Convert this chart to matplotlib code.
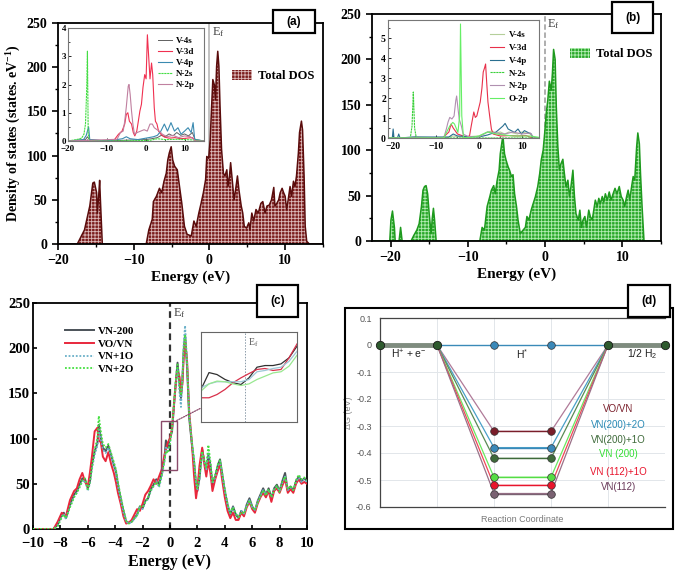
import matplotlib
matplotlib.use('Agg')
import matplotlib.pyplot as plt
from matplotlib.patches import Rectangle, Patch, ConnectionPatch
from matplotlib.ticker import MultipleLocator

# ---------------- data ----------------
# (a) total DOS of VN
E_a = [-20, -17.45, -16.5, -15.8, -15.4, -15.2, -14.9, -14.8, -14.6, -14.5, -14.4, -14.15,
       -8.35, -8.0, -7.55, -7.4, -7.0, -6.6, -6.3, -6.0, -5.7, -5.5, -5.3, -5.05, -4.85, -4.6,
       -4.25, -3.95, -3.65, -3.3, -2.95, -2.4, -2.05, -1.75, -1.4, -1.1, -0.8, -0.5, -0.35, -0.1,
       0.1, 0.25, 0.45, 0.65, 0.8, 0.95, 1.1, 1.25, 1.4, 1.6, 1.85, 2.05, 2.3, 2.45, 2.65, 2.8,
       3.05, 3.25, 3.45, 3.7, 3.9, 4.2, 4.4, 4.6, 4.9, 5.2, 5.35, 5.6, 5.85, 6.15, 6.45, 6.8,
       7.05, 7.35, 7.6, 7.9, 8.2, 8.5, 8.65, 8.9, 9.15, 9.35, 9.6, 9.8, 10.0, 10.2, 10.4, 10.65,
       10.85, 11.1, 11.3, 11.5, 11.75, 11.9, 12.15, 12.3, 12.5, 12.65, 12.85, 13.2, 15]
dos_a = [0, 0, 16, 43, 69, 70, 58, 35, 58, 72, 50, 0,
         0, 16, 28, 48, 54, 63, 58, 71, 80, 95, 103, 110, 95, 88,
         84, 65, 46, 20, 11, 9, 26, 20, 35, 46, 58, 73, 99, 97,
         118, 148, 186, 180, 163, 201, 218, 201, 156, 107, 80, 77, 84, 65, 77, 92,
         69, 50, 61, 77, 61, 43, 35, 20, 18, 24, 16, 35, 26, 39, 35, 46,
         48, 35, 43, 44, 50, 64, 43, 46, 50, 58, 63, 58, 54, 39, 50, 65,
         54, 71, 65, 77, 103, 126, 139, 129, 77, 20, 3, 0, 0]

# (a) inset PDOS
a_v4s_E = [-20, -15.5, -15, -14.5, -10, -5, 0, 1.5, 3, 4, 5, 6, 7, 8, 9, 10, 11, 12, 12.7, 15]
a_v4s = [0, 0.05, 0.15, 0.05, 0, 0.03, 0.05, 0.08, 0.12, 0.2, 0.15, 0.25, 0.18, 0.3, 0.2, 0.25, 0.18, 0.3, 0.05, 0]
a_v3d_E = [-20, -8.3, -7.0, -6.1, -5.4, -5.0, -4.6, -4.2, -3.65, -3.2, -2.8, -2.3, -1.9, -1.5, -1.1,
           -0.7, -0.26, 0.1, 0.43, 0.8, 1.1, 1.5, 1.8, 2.2, 2.5, 2.9, 3.3, 3.9, 4.8, 6, 7.5, 9, 10.5, 12, 12.8, 15]
a_v3d = [0, 0, 0.24, 0.35, 0.6, 0.94, 1.0, 0.7, 0.6, 0.3, 0.18, 0.35, 0.7, 1.06, 1.3,
         1.9, 2.35, 2.2, 3.76, 2.9, 2.2, 2.76, 2.35, 1.18, 0.7, 0.6, 0.35, 0.24, 0.14, 0.1, 0.12, 0.08, 0.1, 0.12, 0, 0]
a_v4p_E = [-20, -16, -15.3, -15.0, -14.7, -14.4, -10, -6, -5, -4, -2, 0, 2, 3.0, 3.9, 4.8, 5.6,
           6.5, 7.4, 8.3, 9.1, 10, 10.9, 11.7, 12.2, 12.6, 15]
a_v4p = [0, 0.05, 0.2, 0.35, 0.5, 0.05, 0, 0.08, 0.15, 0.08, 0.05, 0.1, 0.15, 0.2, 0.35, 0.6, 0.35,
         0.65, 0.35, 0.47, 0.24, 0.35, 0.47, 0.3, 0.65, 0.06, 0]
a_n2s_E = [-20, -17.8, -16.5, -15.9, -15.5, -15.2, -15.0, -14.8, -14.5, -10, 1, 3, 5, 8, 12, 15]
a_n2s = [0, 0.05, 0.1, 0.24, 0.6, 1.76, 3.18, 0.24, 0.02, 0, 0.02, 0.08, 0.05, 0.06, 0.04, 0]
a_n2p_E = [-20, -7.4, -6.5, -5.8, -5.4, -5.0, -4.5, -4.3, -4.0, -3.65, -3.3, -2.9, -2.2, -1.3, -0.4,
           0.4, 1.1, 1.7, 2.2, 2.9, 3.5, 4.3, 5.5, 7, 8.5, 10, 11.5, 12.8, 15]
a_n2p = [0, 0.06, 0.3, 0.35, 0.7, 1.2, 1.94, 2.0, 1.65, 1.06, 0.6, 0.24, 0.3, 0.35, 0.4,
         0.35, 0.6, 0.6, 0.47, 0.4, 0.35, 0.24, 0.15, 0.2, 0.12, 0.18, 0.15, 0, 0]

# (b) total DOS of VO/VN
E_b = [-22.5, -20.1, -19.95, -19.75, -19.5, -19.4, -18.9, -18.7, -18.5, -17.35, -17.0, -16.6, -16.3,
       -16.0, -15.8, -15.6, -15.4, -15.2, -15.0, -14.75, -14.6, -14.45, -14.3, -14.1, -8.45, -8.15,
       -7.85, -7.5, -7.15, -6.95, -6.65, -6.45, -6.2, -5.95, -5.8, -5.55, -5.45, -5.25, -5.05, -4.8,
       -4.6, -4.35, -4.15, -3.95, -3.7, -3.5, -3.2, -2.85, -2.55, -2.35, -2.1, -1.8, -1.55, -1.25,
       -0.95, -0.7, -0.5, -0.25, -0.05, 0.15, 0.35, 0.55, 0.8, 0.95, 1.1, 1.3, 1.45, 1.65, 1.85,
       2.05, 2.3, 2.5, 2.7, 2.95, 3.15, 3.35, 3.6, 3.8, 4.0, 4.3, 4.5, 4.7, 4.9, 5.15, 5.35, 5.65,
       5.85, 6.1, 6.3, 6.5, 6.75, 6.95, 7.15, 7.4, 7.6, 7.8, 8.05, 8.3, 8.55, 8.8, 9.05, 9.3, 9.6,
       9.85, 10.1, 10.3, 10.55, 10.75, 10.95, 11.2, 11.4, 11.6, 11.85, 12.0, 12.2, 12.35, 12.55, 12.8, 15]
dos_b = [0, 0, 23, 33, 15, 0, 0, 15, 0, 0, 6, 12, 19,
         38, 56, 60, 61, 52, 30, 8, 25, 36, 23, 0, 0, 15,
         12, 38, 49, 56, 61, 52, 67, 78, 96, 111, 115, 96, 89, 82,
         78, 71, 73, 52, 38, 23, 8, 12, 15, 27, 23, 34, 41, 49,
         60, 74, 89, 100, 119, 141, 155, 176, 166, 185, 211, 200, 148, 104, 78,
         85, 90, 74, 60, 67, 49, 60, 78, 49, 30, 23, 34, 15, 23, 27, 15, 34,
         27, 23, 34, 45, 38, 47, 41, 49, 43, 52, 45, 54, 45, 52, 58, 52, 60,
         49, 45, 38, 49, 56, 45, 60, 71, 67, 104, 119, 107, 74, 38, 0, 0]

# (b) inset PDOS
b_v4s_E = [-23, -16, -15, -8, -6, -4, 0, 1, 2, 3, 4, 5, 6, 7, 8, 9, 10, 11, 12, 12.6, 15]
b_v4s = [0, 0, 0.05, 0, 0.1, 0.05, 0.1, 0.2, 0.3, 0.35, 0.25, 0.3, 0.2, 0.3, 0.25, 0.2, 0.3, 0.25, 0.2, 0, 0]
b_v3d_E = [-23, -8.5, -7, -6.5, -6, -5, -3, -2.2, -1.8, -1.2, -0.85, -0.5, -0.1, 0.3, 0.7, 1.0, 1.3,
           1.55, 1.8, 2.1, 2.5, 2.9, 3.3, 5, 7, 9, 11, 12.5, 15]
b_v3d = [0, 0, 0.3, 0.7, 0.5, 0.2, 0.05, 0.1, 0.6, 1.3, 1.03, 1.1, 1.45, 1.8, 2.5, 3.3, 3.5,
         3.7, 2.8, 1.8, 1.1, 0.45, 0.2, 0.1, 0.12, 0.1, 0.12, 0, 0]
b_v4p_E = [-23, -20.2, -20.0, -19.8, -19, -18.7, -18.4, -15.5, -7, -6, -5, 0, 2, 4, 5.6, 6.1, 6.8,
           7.5, 8.3, 9.1, 9.9, 10.6, 11.4, 12.2, 12.6, 15]
b_v4p = [0, 0, 0.45, 0, 0, 0.2, 0, 0.05, 0.05, 0.2, 0.1, 0.05, 0.15, 0.3, 0.6, 0.73, 0.45,
         0.37, 0.28, 0.45, 0.2, 0.37, 0.28, 0.2, 0, 0]
b_n2s_E = [-23, -16, -15.6, -15.3, -15.0, -14.6, -5, 15]
b_n2s = [0, 0, 0.6, 2.3, 0.5, 0, 0, 0]
b_n2p_E = [-23, -8.2, -7.6, -7.2, -6.8, -6.3, -5.8, -5.4, -5.2, -4.9, -4.6, -4.1, -3.7, -2.6, 0, 2,
           4, 6, 8, 10, 12, 12.8, 15]
b_n2p = [0, 0, 0.45, 0.8, 1.03, 0.95, 1.1, 1.87, 2.1, 1.5, 0.95, 0.6, 0.2, 0.08, 0.05, 0.3,
         0.25, 0.2, 0.3, 0.2, 0.25, 0, 0]
b_o2p_E = [-23, -8.3, -8, -6.8, -6.1, -5.7, -4.9, -4.5, -4.3, -4.0, -3.6, -2, 0, 2, 4, 8, 12, 15]
b_o2p = [0, 0, 0.1, 0.6, 0.78, 0.7, 0.28, 1.1, 5.7, 1.1, 0.03, 0.02, 0.1, 0.3, 0.2, 0.1, 0.1, 0]

# (c) DOS comparison
E_c = [-10, -8.5, -8.2, -7.9, -7.75, -7.6, -7.3, -7.0, -6.8, -6.6, -6.4, -6.2, -6.0, -5.85, -5.7,
       -5.5, -5.3, -5.2, -5.05, -4.9, -4.7, -4.5, -4.3, -4.1, -3.95, -3.8, -3.6, -3.4, -3.2, -3.0,
       -2.8, -2.6, -2.4, -2.2, -2.0, -1.8, -1.6, -1.4, -1.2, -1.0, -0.8, -0.6, -0.4, -0.3, -0.15,
       0.0, 0.15, 0.3, 0.45, 0.55, 0.7, 0.8, 0.9, 1.0, 1.1, 1.25, 1.4, 1.6, 1.75, 1.9, 2.0, 2.15,
       2.35, 2.5, 2.65, 2.8, 2.95, 3.1, 3.3, 3.5, 3.65, 3.8, 4.0, 4.2, 4.4, 4.6, 4.8, 5.0, 5.2,
       5.4, 5.6, 5.8, 6.0, 6.2, 6.4, 6.6, 6.8, 7.0, 7.2, 7.4, 7.6, 7.8, 8.0, 8.2, 8.4, 8.6, 8.8,
       9.0, 9.2, 9.4, 9.6, 9.8, 10.0]
dos_vn200 = [0, 0, 5, 16, 18, 12, 27, 38, 42, 49,
             56, 55, 45, 52, 71, 86, 95, 115, 101, 90,
             86, 92, 82, 71, 64, 49, 34, 20, 8, 7,
             8, 12, 16, 25, 23, 31, 34, 44, 49, 55,
             49, 62, 79, 98, 90, 101, 108, 138, 167, 184,
             160, 145, 163, 197, 215, 178, 123, 93, 75, 49,
             42, 56, 88, 75, 64, 82, 71, 49, 58, 71,
             77, 62, 42, 27, 16, 25, 16, 12, 20, 16,
             27, 34, 25, 20, 31, 38, 45, 38, 45, 34,
             45, 49, 42, 53, 62, 42, 47, 42, 53, 58,
             53, 56, 53]
dos_vovn = [0, 0, 8, 18, 16, 14, 32, 42, 45, 55,
            62, 52, 47, 62, 80, 108, 112, 98, 96, 80,
            75, 85, 72, 62, 52, 40, 28, 14, 6, 7,
            10, 16, 22, 20, 28, 38, 42, 48, 55, 50,
            58, 66, 82, 88, 96, 100, 112, 140, 165, 175,
            168, 150, 160, 190, 210, 185, 130, 95, 60, 34,
            45, 70, 90, 72, 58, 75, 62, 42, 55, 65,
            72, 55, 35, 20, 12, 18, 10, 10, 18, 14,
            24, 30, 22, 18, 28, 35, 40, 35, 42, 30,
            42, 45, 40, 48, 55, 40, 44, 40, 50, 55,
            50, 52, 50]
dos_vn1o = [0, 0, 4, 14, 17, 11, 25, 36, 40, 47,
            52, 54, 42, 50, 66, 82, 92, 110, 100, 88,
            84, 90, 80, 70, 62, 47, 32, 18, 8, 6,
            8, 11, 15, 24, 22, 30, 33, 42, 47, 53,
            46, 58, 75, 90, 86, 96, 110, 140, 165, 178,
            150, 135, 165, 205, 225, 185, 128, 95, 76, 50,
            44, 55, 84, 74, 66, 85, 70, 50, 57, 70,
            75, 60, 42, 26, 17, 24, 17, 13, 20, 17,
            26, 32, 24, 21, 30, 37, 43, 38, 44, 35,
            44, 47, 42, 51, 58, 43, 46, 43, 52, 57,
            52, 55, 52]
dos_vn2o = [0, 0, 3, 13, 16, 12, 24, 35, 40, 46,
            54, 56, 44, 52, 68, 88, 100, 125, 108, 94,
            90, 94, 84, 74, 66, 52, 36, 22, 9, 6,
            8, 12, 15, 25, 24, 30, 35, 43, 48, 52,
            48, 60, 76, 86, 84, 95, 112, 142, 170, 182,
            158, 148, 165, 200, 215, 182, 125, 96, 78, 52,
            45, 58, 86, 76, 68, 93, 74, 52, 60, 72,
            76, 63, 44, 28, 18, 24, 17, 13, 19, 17,
            25, 32, 24, 21, 29, 36, 43, 37, 44, 35,
            43, 48, 41, 52, 58, 44, 48, 43, 54, 60,
            55, 57, 54]

# (c) zoomed inset near Ef
E_zoom = [-0.55, -0.45, -0.35, -0.25, -0.15, -0.05, 0.05, 0.15, 0.25, 0.35, 0.45, 0.55, 0.65]
zoom_vn200 = [84.9, 95.2, 94.0, 91.0, 89.0, 87.9, 92.0, 98.5, 99.5, 99.5, 100.5, 104.2, 111.3]
zoom_vovn = [79.8, 79.8, 81.8, 84.9, 89.0, 92.0, 94.6, 97.1, 97.7, 96.5, 97.1, 104.2, 112.7]
zoom_vn1o = [85.9, 88.3, 89.6, 89.6, 89.6, 89.6, 91.0, 95.7, 96.5, 97.7, 98.5, 102.1, 108.2]
zoom_vn2o = [83.9, 88.3, 90.0, 89.6, 88.3, 87.3, 88.3, 91.0, 93.0, 95.0, 95.7, 99.1, 105.8]

# (d) free energy diagram
steps = [0, 1, 2, 3, 4, 5]
dG_ideal = [0, 0, 0, 0, 0, 0]
d_names = ['VO/VN', 'VN(200)+2O', 'VN(200)+1O', 'VN (200)', 'VN (112)+1O', 'VN(112)']
d_hstar = [-0.32, -0.38, -0.42, -0.49, -0.52, -0.55]
d_yticks = [-0.6, -0.5, -0.4, -0.3, -0.2, -0.1, 0, 0.1]
d_yticklabels = ['-0.6', '-0.5', '-0.4', '-0.3', '-0.2', '-0.1', '0', '0.1']

# ---------------- figure ----------------
W, H = 678, 573
fig = plt.figure(figsize=(W / 100, H / 100), dpi=100)
plt.rcParams['hatch.linewidth'] = 0.6
plt.rcParams['mathtext.default'] = 'regular'

SERIF = 'Liberation Serif'
SANS = 'Liberation Sans'


def box(x0, y0, x1, y1):
    return [x0 / W, 1 - y1 / H, (x1 - x0) / W, (y1 - y0) / H]


def label_box(x0, y0, x1, y1, txt):
    r = Rectangle((x0 / W, 1 - y1 / H), (x1 - x0) / W, (y1 - y0) / H, transform=fig.transFigure,
                  facecolor='white', edgecolor='black', lw=1.6, zorder=20)
    fig.add_artist(r)
    fig.text((x0 + x1) / 2 / W, 1 - (y0 + y1) / 2 / H, txt, ha='center', va='center',
             fontsize=8.5, fontweight='bold', family=SANS, zorder=21)


def style_main(ax, fs=10):
    for s in ax.spines.values():
        s.set_linewidth(1.3)
    ax.tick_params(direction='out', labelsize=fs, width=1.2, length=4, top=False, right=False)
    ax.tick_params(which='minor', direction='out', length=2.5, width=1)
    for lab in ax.get_xticklabels() + ax.get_yticklabels():
        lab.set_fontfamily(SERIF)
        lab.set_fontweight('bold')


def style_inset(ax, fs):
    for s in ax.spines.values():
        s.set_linewidth(0.8)
        s.set_color('#777777')
    ax.tick_params(direction='in', labelsize=fs, length=2, width=0.6, pad=1.5)
    ax.tick_params(axis='x', pad=3)
    ax.tick_params(which='minor', direction='in', length=1.2, width=0.5)
    for lab in ax.get_xticklabels() + ax.get_yticklabels():
        lab.set_fontfamily(SERIF)
        lab.set_fontweight('bold')


# ---- (a)
axa = fig.add_axes(box(58, 23, 323, 244))
axa.axvline(0, color='#bdbdbd', lw=1.3, zorder=0)
axa.fill_between(E_a, dos_a, 0, facecolor='#7a1c1c', edgecolor='#dcbaba', hatch='+++++',
                 linewidth=0, zorder=1)
axa.plot(E_a, dos_a, color='#5a0c0c', lw=1.1, zorder=2)
axa.set_xlim(-20, 15)
axa.set_ylim(0, 250)
axa.xaxis.set_major_locator(MultipleLocator(10))
axa.xaxis.set_minor_locator(MultipleLocator(5))
axa.yaxis.set_major_locator(MultipleLocator(50))
axa.yaxis.set_minor_locator(MultipleLocator(25))
style_main(axa)
axa.set_xlabel('Energy (eV)', fontsize=11, fontweight='bold', family=SERIF, labelpad=2)
axa.set_ylabel('Density of states (states. eV$^{-1}$)', fontsize=10, fontweight='bold',
               family=SERIF, labelpad=3)
axa.text(0.35, 247, 'E$_f$', fontsize=9, family=SERIF, color='#444444', va='top')
ha = Patch(facecolor='#7a1c1c', edgecolor='#dcbaba', hatch='+++++', linewidth=0)
axa.legend([ha], ['Total DOS'], loc='upper right', bbox_to_anchor=(1.01, 0.84), frameon=False,
           prop={'family': SERIF, 'weight': 'bold', 'size': 9}, handlelength=1.6,
           handleheight=0.9, handletextpad=0.5)

axai = fig.add_axes(box(68, 28, 204, 141))
axai.plot(a_v4s_E, a_v4s, color='#606060', lw=0.7, label='V-4s')
axai.plot(a_v3d_E, a_v3d, color='#f03050', lw=0.8, label='V-3d')
axai.plot(a_v4p_E, a_v4p, color='#3a8ab0', lw=0.8, label='V-4p')
axai.plot(a_n2s_E, a_n2s, color='#44dd44', lw=0.8, ls=(0, (2, 0.6)), label='N-2s')
axai.plot(a_n2p_E, a_n2p, color='#c080a0', lw=0.8, label='N-2p')
axai.set_xlim(-20, 15)
axai.set_ylim(0, 4)
axai.xaxis.set_major_locator(MultipleLocator(10))
axai.xaxis.set_minor_locator(MultipleLocator(5))
axai.yaxis.set_major_locator(MultipleLocator(1))
axai.yaxis.set_minor_locator(MultipleLocator(0.5))
style_inset(axai, 6.5)
axai.legend(loc='upper right', frameon=False, prop={'family': SERIF, 'weight': 'bold', 'size': 6.5},
            handlelength=1.5, handletextpad=0.5, labelspacing=0.3, borderaxespad=0.6)

# ---- (b)
axb = fig.add_axes(box(372, 14, 661, 241))
axb.axvline(0, color='#a8a8a8', lw=1.3, ls=(0, (3, 1.5)), zorder=0)
axb.fill_between(E_b, dos_b, 0, facecolor='#2aa82a', edgecolor='#b4ecb4', hatch='+++++',
                 linewidth=0, zorder=1)
axb.plot(E_b, dos_b, color='#1e9a1e', lw=1.1, zorder=2)
axb.set_xlim(-22.4, 15)
axb.set_ylim(0, 250)
axb.xaxis.set_major_locator(MultipleLocator(10))
axb.xaxis.set_minor_locator(MultipleLocator(5))
axb.yaxis.set_major_locator(MultipleLocator(50))
axb.yaxis.set_minor_locator(MultipleLocator(25))
style_main(axb)
axb.set_xlabel('Energy (eV)', fontsize=11, fontweight='bold', family=SERIF, labelpad=2)
axb.text(0.3, 247, 'E$_f$', fontsize=9, family=SERIF, color='#444444', va='top')
hb = Patch(facecolor='#2aa82a', edgecolor='#b4ecb4', hatch='+++++', linewidth=0)
axb.legend([hb], ['Total DOS'], loc='upper right', bbox_to_anchor=(1.01, 0.9), frameon=False,
           prop={'family': SERIF, 'weight': 'bold', 'size': 9}, handlelength=1.6,
           handleheight=0.9, handletextpad=0.5)

axbi = fig.add_axes(box(388, 20, 539, 138))
axbi.plot(b_v4s_E, b_v4s, color='#b5cf9a', lw=0.8, label='V-4s')
axbi.plot(b_v3d_E, b_v3d, color='#e8304a', lw=0.8, label='V-3d')
axbi.plot(b_v4p_E, b_v4p, color='#2a6f90', lw=0.8, label='V-4p')
axbi.plot(b_n2s_E, b_n2s, color='#3ad03a', lw=0.8, ls=(0, (2, 0.6)), label='N-2s')
axbi.plot(b_n2p_E, b_n2p, color='#b090b0', lw=0.8, label='N-2p')
axbi.plot(b_o2p_E, b_o2p, color='#66ee66', lw=0.8, label='O-2p')
axbi.set_xlim(-21.2, 14.0)
axbi.set_ylim(0, 5.9)
axbi.xaxis.set_major_locator(MultipleLocator(10))
axbi.xaxis.set_minor_locator(MultipleLocator(5))
axbi.yaxis.set_major_locator(MultipleLocator(1))
axbi.yaxis.set_minor_locator(MultipleLocator(0.5))
style_inset(axbi, 7)
axbi.legend(loc='upper right', frameon=False, prop={'family': SERIF, 'weight': 'bold', 'size': 6.5},
            handlelength=1.6, handletextpad=0.5, labelspacing=0.5, borderaxespad=0.8)

# ---- (c)
axc = fig.add_axes(box(33, 303, 307, 529))
axc.axvline(0, color='#333333', lw=1.6, ls=(0, (3, 2)), zorder=1)
axc.plot(E_c, dos_vn200, color='#4b5258', lw=1.4, label='VN-200', zorder=3)
axc.plot(E_c, dos_vovn, color='#e8283c', lw=1.4, label='VO/VN', zorder=4)
axc.plot(E_c, dos_vn1o, color='#6ab0c8', lw=1.3, ls=(0, (1, 1)), label='VN+1O', zorder=5)
axc.plot(E_c, dos_vn2o, color='#44e040', lw=1.3, ls=(0, (1, 1)), label='VN+2O', zorder=6)
axc.set_xlim(-10, 10)
axc.set_ylim(0, 250)
axc.xaxis.set_major_locator(MultipleLocator(2))
axc.yaxis.set_major_locator(MultipleLocator(50))
style_main(axc, fs=10.5)
axc.tick_params(direction='in', length=3)
axc.tick_params(axis='x', pad=6)
axc.tick_params(axis='y', pad=2)
axc.set_xlabel('Energy (eV)', fontsize=11.5, fontweight='bold', family=SERIF, labelpad=3)
axc.text(0.25, 247, 'E$_f$', fontsize=9, family=SERIF, color='#444444', va='top')
axc.legend(loc='upper left', bbox_to_anchor=(0.08, 0.94), frameon=False,
           prop={'family': SERIF, 'weight': 'bold', 'size': 8}, handlelength=2.6,
           handletextpad=0.4, labelspacing=0.25)
axc.add_patch(Rectangle((-0.66, 65), 1.15, 55, fill=False, edgecolor='#8a4a6a', lw=1.0, zorder=7))

axci = fig.add_axes(box(201, 332, 297, 422))
axci.axvline(0, color='#8a9aa8', lw=0.7, ls=(0, (1.5, 1.5)))
axci.plot(E_zoom, zoom_vn200, color='#303030', lw=0.9)
axci.plot(E_zoom, zoom_vovn, color='#d8304a', lw=0.9)
axci.plot(E_zoom, zoom_vn1o, color='#9cc8d8', lw=0.9)
axci.plot(E_zoom, zoom_vn2o, color='#98e890', lw=0.9)
axci.set_xlim(-0.55, 0.65)
axci.set_ylim(65, 120)
axci.set_xticks([])
axci.set_yticks([])
for s in axci.spines.values():
    s.set_color('#666666')
    s.set_linewidth(0.8)
axci.text(0.04, 117, 'E$_f$', fontsize=7, family=SERIF, color='#555555', va='top')
con = ConnectionPatch(xyA=(0.49, 120), coordsA=axc.transData, xyB=(0, 0.155),
                      coordsB=axci.transAxes, color='#8a4a6a', lw=0.9, ls=(0, (1, 1)))
fig.add_artist(con)

# ---- (d)
fig.add_artist(Rectangle((345 / W, 1 - 529 / H), 328 / W, 221 / H, transform=fig.transFigure,
                         fill=False, edgecolor='black', lw=1.5, zorder=5))
axd = fig.add_axes(box(380, 318, 665, 507))
d_line = ['#b07a98', '#4aa0c8', '#5a8a55', '#6ae860', '#f04858', '#9a7088']
d_mark = ['#7a1e2a', '#3a88b8', '#3e6a3a', '#55dd44', '#e8142c', '#7a6272']
d_text = ['#7a1e2a', '#2a8ab5', '#3e6a3a', '#33dd33', '#e8142c', '#6a3a5a']
for k in range(len(d_names)):
    vals = [0, 0, d_hstar[k], d_hstar[k], 0, 0]
    axd.plot(steps, vals, color=d_line[k], lw=0.9, zorder=3)
    axd.plot(steps[2:4], vals[2:4], color=d_mark[k], lw=1.0, zorder=4)
    axd.plot(steps[2:4], vals[2:4], ls='none', marker='o', ms=5.5, mfc=d_mark[k],
             mec='#333333', mew=0.5, zorder=6, clip_on=False)
axd.plot(steps, dG_ideal, color='#3a8ab8', lw=1.0, zorder=4)
axd.plot(steps[0:2], dG_ideal[0:2], color='#7f8c7f', lw=3.5, zorder=4, solid_capstyle='butt')
axd.plot(steps[4:6], dG_ideal[4:6], color='#7f8c7f', lw=3.5, zorder=4, solid_capstyle='butt')
axd.plot(steps[2:4], dG_ideal[2:4], ls='none', marker='o', ms=5.5, mfc='#3a88b8',
         mec='#333333', mew=0.5, zorder=7, clip_on=False)
axd.plot([steps[0], steps[1], steps[4], steps[5]], [dG_ideal[0], dG_ideal[1], dG_ideal[4], dG_ideal[5]],
         ls='none', marker='o', ms=6, mfc='#2e5a2e', mec='#1a1a1a', mew=0.6, zorder=8, clip_on=False)
axd.set_xlim(0, 5)
axd.set_ylim(-0.6, 0.1)
axd.set_xticks(steps)
axd.set_xticklabels([])
axd.set_yticks(d_yticks)
axd.set_yticklabels(d_yticklabels)
axd.grid(True, color='#e2e6ea', lw=0.7)
axd.set_axisbelow(True)
axd.tick_params(axis='x', length=0)
axd.tick_params(axis='y', length=0, labelsize=6.5, labelcolor='#555555', pad=6)
for lab in axd.get_yticklabels():
    lab.set_fontfamily(SANS)
for side, s in axd.spines.items():
    s.set_color('#444444')
    s.set_linewidth(0.9)
axd.spines['right'].set_visible(False)
axd.set_ylabel('ΔG (eV)', fontsize=6.5, color='#888888', family=SANS, labelpad=2)
axd.set_xlabel('Reaction Coordinate', fontsize=6.5, color='#7a7a7a', family=SANS, labelpad=2)
axd.text(0.5, -0.033, 'H$^{+}$ + e$^{-}$', ha='center', va='center', fontsize=7.5, family=SANS,
         color='#222222')
axd.text(2.5, -0.033, 'H$^{*}$', ha='center', va='center', fontsize=7.5, family=SANS, color='#222222')
axd.text(4.6, -0.033, '1/2 H$_{2}$', ha='center', va='center', fontsize=7.5, family=SANS,
         color='#222222')
text_y = [-0.236, -0.295, -0.351, -0.404, -0.469, -0.526]
for k in range(len(d_names)):
    axd.text(4.18, text_y[k], d_names[k], ha='center', va='center', fontsize=7, family=SANS,
             color=d_text[k])

# panel labels
label_box(273, 10, 315, 33, '(a)')
label_box(612, 2, 653, 33, '(b)')
label_box(257, 285, 298, 317, '(c)')
label_box(628, 285, 670, 317, '(d)')

fig.savefig('out.png', dpi=100)
